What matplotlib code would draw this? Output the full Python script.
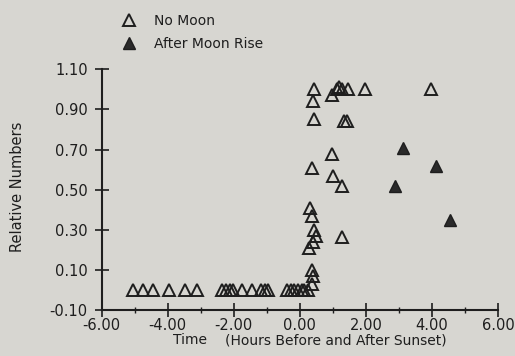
import numpy as np
import matplotlib
matplotlib.use("Agg")
import matplotlib.pyplot as plt
from matplotlib.ticker import MultipleLocator, FixedLocator

# hours relative to sunset, relative numbers
no_moon_t = [-5.06, -4.76, -4.45, -3.95, -3.48, -3.10,
             -2.36, -2.24, -2.12, -2.02, -1.76, -1.46, -1.18, -1.06, -0.95,
             -0.40, -0.28, -0.18, -0.05, 0.06, 0.14, 0.24,
             0.36, 0.40, 0.38,
             0.29, 0.39, 0.49, 0.42, 0.36, 0.31,
             0.36, 1.00, 1.29, 0.98, 1.27,
             0.43, 0.41, 0.43, 0.96, 1.12, 1.20, 1.28, 1.47, 1.97, 3.96,
             1.33, 1.42]
no_moon_y = [0.00, 0.00, 0.00, 0.00, 0.00, 0.00,
             0.00, 0.00, 0.00, 0.00, 0.00, 0.00, 0.00, 0.00, 0.00,
             0.00, 0.00, 0.00, 0.00, 0.00, 0.00, 0.00,
             0.03, 0.07, 0.10,
             0.21, 0.24, 0.27, 0.30, 0.37, 0.41,
             0.61, 0.57, 0.52, 0.68, 0.265,
             1.00, 0.94, 0.85, 0.97, 1.00, 1.01, 1.00, 1.00, 1.00, 1.00,
             0.84, 0.84]

moon_t = [2.88, 3.13, 4.11, 4.55]
moon_y = [0.52, 0.71, 0.62, 0.35]

xticks = [-6, -4, -2, 0, 2, 4, 6]
yticks = [-0.10, 0.10, 0.30, 0.50, 0.70, 0.90, 1.10]

bg = '#d7d6d1'
ink = '#1e1e1e'

plt.rcParams['font.family'] = 'DejaVu Sans'
fig = plt.figure(figsize=(5.15, 3.56), dpi=100, facecolor=bg)
ax = fig.add_axes([0.1975, 0.1292, 0.7695, 0.6761], facecolor=bg)

ax.plot(no_moon_t, no_moon_y, linestyle='none', marker='^', markersize=8.2,
        markerfacecolor='none', markeredgecolor=ink, markeredgewidth=1.4,
        label='No Moon', clip_on=False)
ax.plot(moon_t, moon_y, linestyle='none', marker='^', markersize=8.2,
        markerfacecolor='#2a2a2a', markeredgecolor=ink, markeredgewidth=1.0,
        label='After Moon Rise', clip_on=False)

ax.set_xlim(-6, 6)
ax.set_ylim(-0.10, 1.10)
ax.xaxis.set_major_locator(FixedLocator(xticks))
ax.xaxis.set_minor_locator(MultipleLocator(1))
ax.yaxis.set_major_locator(FixedLocator(yticks))
ax.set_xticklabels(['%.2f' % v for v in xticks])
ax.set_yticklabels(['%.2f' % v for v in yticks])
ax.tick_params(axis='both', which='major', direction='inout', length=10, width=1.2,
               color=ink, labelsize=10.5, labelcolor=ink, pad=1)
ax.tick_params(axis='y', which='major', pad=5)
ax.tick_params(axis='x', which='minor', direction='inout', length=5, width=1.0, color=ink)

for side in ['top', 'right']:
    ax.spines[side].set_visible(False)
for side in ['left', 'bottom']:
    ax.spines[side].set_linewidth(1.5)
    ax.spines[side].set_color(ink)

fig.text(0.034, 0.475, 'Relative Numbers', rotation=90, ha='center', va='center',
         fontsize=10.5, color=ink)
fig.text(0.335, 0.025, 'Time', ha='left', va='bottom', fontsize=10, color=ink)
fig.text(0.437, 0.025, '(Hours Before and After Sunset)', ha='left', va='bottom',
         fontsize=10, color=ink)

leg = ax.legend(loc='upper left', bbox_to_anchor=(0.213, 0.995), bbox_transform=fig.transFigure,
                frameon=False, fontsize=10, handlelength=1.0, handletextpad=1.3,
                labelspacing=0.6, labelcolor=ink)

fig.savefig('out.png', dpi=100, facecolor=bg)
